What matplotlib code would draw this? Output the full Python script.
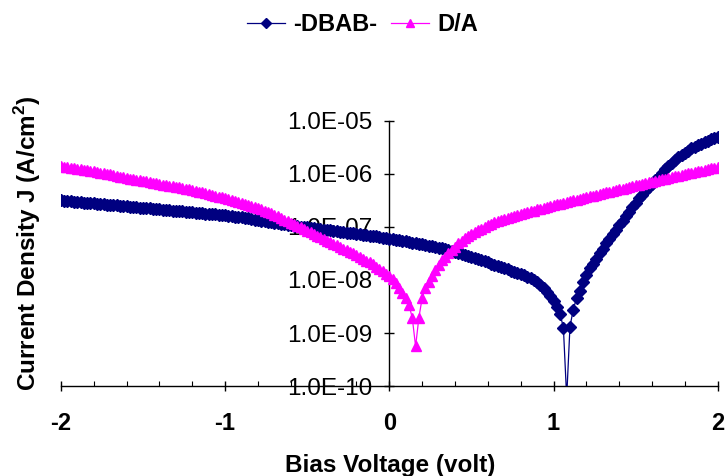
import matplotlib
matplotlib.use("Agg")
import matplotlib.pyplot as plt
import matplotlib.ticker as mticker
import numpy as np

NAVY = "#000080"
MAGENTA = "#FF00FF"
INK = "#000000"

plt.rcParams.update({
    "font.family": "Liberation Sans",
    "mathtext.fontset": "custom",
    "mathtext.rm": "Liberation Sans",
    "mathtext.bf": "Liberation Sans:bold",
    "axes.unicode_minus": False,
})

# bias sweep -2 V .. +2 V in 20 mV steps
bias = np.round(np.arange(-2.0, 2.0 + 1e-9, 0.02), 2)

series_labels = ["-DBAB-", "D/A"]

# current density, A/cm^2
j_dbab = [
    3.16e-7, 3.12e-7, 3.08e-7, 3.04e-7, 3.00e-7, 2.96e-7, 2.93e-7, 2.89e-7, 2.85e-7, 2.82e-7,
    2.78e-7, 2.74e-7, 2.71e-7, 2.67e-7, 2.64e-7, 2.61e-7, 2.57e-7, 2.54e-7, 2.51e-7, 2.48e-7,
    2.44e-7, 2.41e-7, 2.38e-7, 2.35e-7, 2.32e-7, 2.29e-7, 2.26e-7, 2.23e-7, 2.20e-7, 2.17e-7,
    2.15e-7, 2.12e-7, 2.09e-7, 2.06e-7, 2.04e-7, 2.01e-7, 1.99e-7, 1.96e-7, 1.94e-7, 1.91e-7,
    1.89e-7, 1.86e-7, 1.84e-7, 1.82e-7, 1.79e-7, 1.77e-7, 1.75e-7, 1.72e-7, 1.70e-7, 1.68e-7,
    1.66e-7, 1.63e-7, 1.60e-7, 1.57e-7, 1.54e-7, 1.51e-7, 1.48e-7, 1.45e-7, 1.41e-7, 1.38e-7,
    1.35e-7, 1.32e-7, 1.29e-7, 1.26e-7, 1.23e-7, 1.20e-7, 1.17e-7, 1.15e-7, 1.12e-7, 1.10e-7,
    1.07e-7, 1.05e-7, 1.03e-7, 1.01e-7, 9.95e-8, 9.77e-8, 9.60e-8, 9.40e-8, 9.25e-8, 9.08e-8,
    8.91e-8, 8.75e-8, 8.59e-8, 8.43e-8, 8.28e-8, 8.13e-8, 7.98e-8, 7.83e-8, 7.69e-8, 7.55e-8,
    7.41e-8, 7.28e-8, 7.14e-8, 7.01e-8, 6.89e-8, 6.76e-8, 6.61e-8, 6.46e-8, 6.31e-8, 6.17e-8,
    6.03e-8, 5.89e-8, 5.75e-8, 5.62e-8, 5.50e-8, 5.37e-8, 5.22e-8, 5.08e-8, 4.94e-8, 4.81e-8,
    4.68e-8, 4.55e-8, 4.43e-8, 4.31e-8, 4.19e-8, 4.07e-8, 3.93e-8, 3.78e-8, 3.65e-8, 3.52e-8,
    3.39e-8, 3.24e-8, 3.09e-8, 2.95e-8, 2.82e-8, 2.69e-8, 2.57e-8, 2.45e-8, 2.34e-8, 2.24e-8,
    2.14e-8, 2.03e-8, 1.93e-8, 1.84e-8, 1.75e-8, 1.66e-8, 1.58e-8, 1.50e-8, 1.43e-8, 1.36e-8,
    1.29e-8, 1.22e-8, 1.15e-8, 1.08e-8, 1.01e-8, 9.20e-9, 8.13e-9, 7.08e-9, 6.03e-9, 5.01e-9,
    3.98e-9, 3.16e-9, 2.29e-9, 1.26e-9, 6.0e-11, 1.32e-9, 2.75e-9, 4.57e-9, 6.31e-9, 9.12e-9,
    1.26e-8, 1.66e-8, 2.04e-8, 2.51e-8, 3.16e-8, 3.89e-8, 4.90e-8, 6.03e-8, 7.24e-8, 8.91e-8,
    1.07e-7, 1.29e-7, 1.58e-7, 1.91e-7, 2.34e-7, 2.82e-7, 3.47e-7, 4.07e-7, 4.79e-7, 5.62e-7,
    6.46e-7, 7.59e-7, 8.91e-7, 1.05e-6, 1.23e-6, 1.41e-6, 1.62e-6, 1.86e-6, 2.09e-6, 2.29e-6,
    2.51e-6, 2.75e-6, 3.02e-6, 3.24e-6, 3.47e-6, 3.72e-6, 3.98e-6, 4.17e-6, 4.47e-6, 4.79e-6,
    5.01e-6,
]

j_da = [
    1.41e-6, 1.38e-6, 1.35e-6, 1.32e-6, 1.29e-6, 1.26e-6, 1.23e-6, 1.20e-6, 1.17e-6, 1.15e-6,
    1.12e-6, 1.09e-6, 1.06e-6, 1.03e-6, 1.005e-6, 9.77e-7, 9.46e-7, 9.16e-7, 8.87e-7, 8.59e-7,
    8.32e-7, 8.13e-7, 7.94e-7, 7.76e-7, 7.59e-7, 7.41e-7, 7.21e-7, 7.01e-7, 6.82e-7, 6.64e-7,
    6.46e-7, 6.31e-7, 6.17e-7, 6.03e-7, 5.89e-7, 5.75e-7, 5.60e-7, 5.45e-7, 5.30e-7, 5.15e-7,
    5.01e-7, 4.83e-7, 4.66e-7, 4.49e-7, 4.33e-7, 4.17e-7, 4.02e-7, 3.87e-7, 3.73e-7, 3.60e-7,
    3.47e-7, 3.33e-7, 3.19e-7, 3.06e-7, 2.94e-7, 2.82e-7, 2.70e-7, 2.59e-7, 2.49e-7, 2.39e-7,
    2.29e-7, 2.16e-7, 2.03e-7, 1.91e-7, 1.80e-7, 1.70e-7, 1.58e-7, 1.48e-7, 1.38e-7, 1.29e-7,
    1.20e-7, 1.12e-7, 1.05e-7, 9.77e-8, 9.12e-8, 8.51e-8, 7.91e-8, 7.35e-8, 6.82e-8, 6.34e-8,
    5.89e-8, 5.50e-8, 5.13e-8, 4.79e-8, 4.47e-8, 4.17e-8, 3.89e-8, 3.63e-8, 3.39e-8, 3.16e-8,
    2.95e-8, 2.73e-8, 2.52e-8, 2.33e-8, 2.16e-8, 2.00e-8, 1.79e-8, 1.61e-8, 1.45e-8, 1.31e-8,
    1.17e-8, 1.05e-8, 8.9e-9, 7.2e-9, 5.8e-9, 4.6e-9, 3.4e-9, 1.9e-9, 5.6e-10, 1.95e-9,
    4.6e-9, 7.1e-9, 9.3e-9, 1.20e-8, 1.55e-8, 1.95e-8, 2.34e-8, 2.75e-8, 3.24e-8, 3.72e-8,
    4.27e-8, 4.90e-8, 5.50e-8, 6.17e-8, 6.76e-8, 7.41e-8, 8.04e-8, 8.71e-8, 9.33e-8, 1.00e-7,
    1.07e-7, 1.15e-7, 1.23e-7, 1.29e-7, 1.35e-7, 1.41e-7, 1.48e-7, 1.55e-7, 1.62e-7, 1.70e-7,
    1.78e-7, 1.84e-7, 1.91e-7, 1.97e-7, 2.04e-7, 2.14e-7, 2.21e-7, 2.29e-7, 2.40e-7, 2.48e-7,
    2.57e-7, 2.66e-7, 2.75e-7, 2.85e-7, 2.95e-7, 3.05e-7, 3.16e-7, 3.27e-7, 3.39e-7, 3.51e-7,
    3.63e-7, 3.76e-7, 3.89e-7, 4.03e-7, 4.17e-7, 4.32e-7, 4.47e-7, 4.62e-7, 4.79e-7, 4.95e-7,
    5.13e-7, 5.31e-7, 5.50e-7, 5.69e-7, 5.89e-7, 6.10e-7, 6.31e-7, 6.52e-7, 6.73e-7, 6.95e-7,
    7.18e-7, 7.41e-7, 7.66e-7, 7.91e-7, 8.17e-7, 8.43e-7, 8.71e-7, 8.99e-7, 9.29e-7, 9.59e-7,
    9.91e-7, 1.02e-6, 1.06e-6, 1.09e-6, 1.13e-6, 1.16e-6, 1.20e-6, 1.24e-6, 1.28e-6, 1.32e-6,
    1.37e-6,
]

x_ticks = [-2, -1, 0, 1, 2]
y_ticks = [1e-10, 1e-9, 1e-8, 1e-7, 1e-6, 1e-5]

fig = plt.figure(figsize=(7.25, 4.76), dpi=100)
ax = fig.add_axes([0.084, 0.189, 0.906, 0.557])

ax.plot(bias, j_dbab, color=NAVY, lw=0.9, marker="D", ms=6,
        mfc=NAVY, mec=NAVY, label=series_labels[0], zorder=3)
ax.plot(bias, j_da, color=MAGENTA, lw=0.9, marker="^", ms=7.5,
        mfc=MAGENTA, mec=MAGENTA, label=series_labels[1], zorder=3)

ax.set_yscale("log")
ax.set_xlim(x_ticks[0], x_ticks[-1])
ax.set_ylim(y_ticks[0], y_ticks[-1])

# y axis crosses at 0 V
for sp in ["top", "right"]:
    ax.spines[sp].set_visible(False)
ax.spines["left"].set_position(("data", 0))
for sp in ["left", "bottom"]:
    ax.spines[sp].set_color(INK)
    ax.spines[sp].set_linewidth(1.0)

ax.xaxis.set_major_locator(mticker.FixedLocator(x_ticks))
ax.xaxis.set_minor_locator(mticker.MultipleLocator(0.2))
ax.yaxis.set_major_locator(mticker.FixedLocator(y_ticks))
ax.yaxis.set_minor_locator(mticker.LogLocator(base=10, subs=np.arange(2, 10)))
ax.yaxis.set_minor_formatter(mticker.NullFormatter())
ax.yaxis.set_major_formatter(mticker.FuncFormatter(lambda v, _: f"{v:.1E}"))

ax.tick_params(axis="both", which="major", direction="inout", length=7,
               width=1, color=INK)
ax.tick_params(axis="both", which="minor", direction="in", length=3.5,
               width=0.8, color=INK)
ax.tick_params(axis="y", which="major", labelsize=17.5, pad=9)
ax.tick_params(axis="x", which="major", labelsize=17, pad=15)
for lbl in ax.get_xticklabels():
    lbl.set_fontweight("bold")

fig.text(0.538, 0.022, "Bias Voltage (volt)", fontsize=17.5, weight="bold",
         ha="center", va="center")
fig.text(0.038, 0.49, r"Current Density J (A/cm$^\mathbf{2}$)", fontsize=17.5,
         weight="bold", rotation=90, ha="center", va="center")

fig.legend(loc="center", bbox_to_anchor=(0.5, 0.948), ncol=2, frameon=False,
           prop={"size": 17, "weight": "bold"}, handlelength=1.6,
           handletextpad=0.35, columnspacing=0.6, markerscale=0.8)

fig.savefig("out.png", dpi=100, facecolor="white")
